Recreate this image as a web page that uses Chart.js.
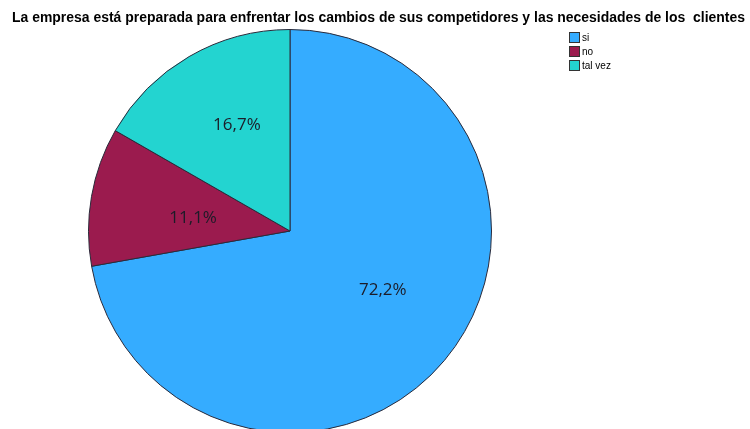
<!DOCTYPE html>
<html>
<head>
<meta charset="utf-8">
<script src="https://cdn.jsdelivr.net/npm/chart.js@4"></script>
<style>
  html, body { margin: 0; padding: 0; background: #fff; overflow: hidden; }
  canvas { display: block; }
</style>
</head>
<body>
<canvas id="pieChart" width="750" height="460"></canvas>
<script>
const title = 'La empresa está preparada para enfrentar los cambios de sus competidores y las necesidades de los  clientes'
const categories = ['si', 'no', 'tal vez']
const percents = [72.2, 11.1, 16.7]
const sliceColors = ['#35acff', '#9b1b4e', '#23d4d0']
// where each percent label sits: fraction of radius, angle nudge in degrees
const labelSpots = [[0.545, -7.6], [0.485, -2.4], [0.587, 3.4]]

// labels, title and legend drawn on top of the pie
const annotate = {
  id: 'annotate',
  afterDraw(chart) {
    const ctx = chart.ctx
    const meta = chart.getDatasetMeta(0)
    ctx.save()
    ctx.fillStyle = '#1c1c28'
    ctx.font = '17px "Open Sans", "Liberation Sans", sans-serif'
    ctx.textAlign = 'center'
    ctx.textBaseline = 'middle'
    meta.data.forEach((arc, i) => {
      const p = arc.getProps(['x', 'y', 'startAngle', 'endAngle', 'outerRadius'], true)
      const mid = (p.startAngle + p.endAngle) / 2 + labelSpots[i][1] * Math.PI / 180
      const r = p.outerRadius * labelSpots[i][0]
      const label = percents[i].toFixed(1).replace('.', ',') + '%'
      ctx.fillText(label, p.x + Math.cos(mid) * r, p.y + Math.sin(mid) * r)
    })

    ctx.fillStyle = '#000'
    ctx.font = 'bold 14px "Liberation Sans", Arial, sans-serif'
    ctx.textBaseline = 'alphabetic'
    const w = ctx.measureText(title).width
    ctx.save()
    ctx.translate(378.5, 22)
    ctx.scale(733 / w, 1)
    ctx.fillText(title, 0, 0)
    ctx.restore()

    ctx.textAlign = 'left'
    ctx.textBaseline = 'middle'
    ctx.font = '10px "Liberation Sans Narrow", "Liberation Sans", Arial, sans-serif'
    categories.forEach((c, i) => {
      const y = 32.5 + i * 14
      ctx.fillStyle = sliceColors[i]
      ctx.fillRect(569.5, y, 10, 10)
      ctx.strokeStyle = '#333'
      ctx.lineWidth = 1
      ctx.strokeRect(569.5, y, 10, 10)
      ctx.fillStyle = '#000'
      ctx.fillText(c, 582, y + 5.5)
    })
    ctx.restore()
  }
}

new Chart(document.getElementById('pieChart'), {
  type: 'pie',
  data: {
    labels: categories,
    datasets: [{
      data: percents,
      backgroundColor: sliceColors,
      borderColor: '#2a2a3a',
      borderWidth: 1
    }]
  },
  options: {
    responsive: false,
    animation: false,
    layout: { padding: { top: 29, bottom: 27, left: 88, right: 258 } },
    plugins: {
      legend: { display: false },
      tooltip: { enabled: false }
    }
  },
  plugins: [annotate]
})
</script>
</body>
</html>
